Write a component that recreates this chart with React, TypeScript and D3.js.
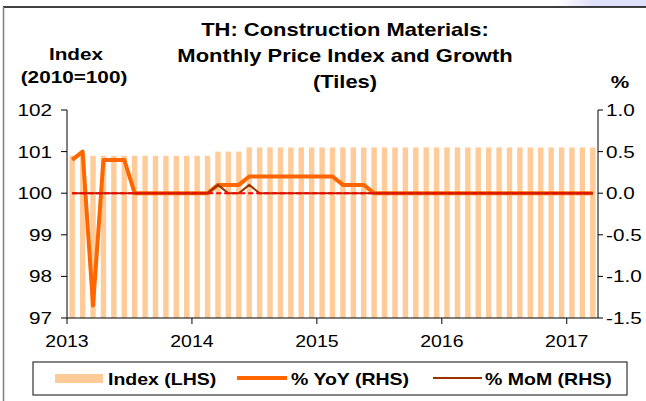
import React from "react";
import * as d3 from "d3";

const months = [
  "2013-01","2013-02","2013-03","2013-04","2013-05","2013-06","2013-07","2013-08","2013-09","2013-10","2013-11","2013-12",
  "2014-01","2014-02","2014-03","2014-04","2014-05","2014-06","2014-07","2014-08","2014-09","2014-10","2014-11","2014-12",
  "2015-01","2015-02","2015-03","2015-04","2015-05","2015-06","2015-07","2015-08","2015-09","2015-10","2015-11","2015-12",
  "2016-01","2016-02","2016-03","2016-04","2016-05","2016-06","2016-07","2016-08","2016-09","2016-10","2016-11","2016-12",
  "2017-01","2017-02","2017-03",
];

const indexValues = [
  100.9,100.9,100.9,100.9,100.9,100.9,100.9,100.9,100.9,100.9,100.9,100.9,
  100.9,100.9,101.0,101.0,101.0,101.1,101.1,101.1,101.1,101.1,101.1,101.1,
  101.1,101.1,101.1,101.1,101.1,101.1,101.1,101.1,101.1,101.1,101.1,101.1,
  101.1,101.1,101.1,101.1,101.1,101.1,101.1,101.1,101.1,101.1,101.1,101.1,
  101.1,101.1,101.1,
];

const yoyValues = [
  0.4,0.5,-1.35,0.4,0.4,0.4,0,0,0,0,0,0,
  0,0,0.1,0.1,0.1,0.2,0.2,0.2,0.2,0.2,0.2,0.2,
  0.2,0.2,0.1,0.1,0.1,0,0,0,0,0,0,0,
  0,0,0,0,0,0,0,0,0,0,0,0,
  0,0,0,
];

const momValues = [
  0,0,0,0,0,0,0,0,0,0,0,0,
  0,0,0.1,0,0,0.1,0,0,0,0,0,0,
  0,0,0,0,0,0,0,0,0,0,0,0,
  0,0,0,0,0,0,0,0,0,0,0,0,
  0,0,0,
];

const leftTicks = [97, 98, 99, 100, 101, 102];
const rightTicks = [-1.5, -1.0, -0.5, 0.0, 0.5, 1.0];
const yearLabels = ["2013", "2014", "2015", "2016", "2017"];
const titleLines = ["TH: Construction Materials:", "Monthly Price Index and Growth", "(Tiles)"];

const FONT = "'Liberation Sans', Arial, Helvetica, sans-serif";
const SX = 1.22;

function T({ x, y, anchor = "start", size = 16, weight = "normal", children }: any) {
  return (
    <text
      transform={`translate(${x},${y}) scale(${SX},1)`}
      textAnchor={anchor}
      fontSize={size}
      fontWeight={weight}
      fontFamily={FONT}
      fill="#000"
    >
      {children}
    </text>
  );
}

export default function App() {
  const W = 646, H = 401;
  const L = 67, R = 598, TOP = 110, BOT = 318;

  const x = d3.scaleBand<string>().domain(months).range([L, R]).paddingInner(0.48).paddingOuter(0.24);
  const yL = d3.scaleLinear().domain([97, 102]).range([BOT, TOP]);
  const yR = d3.scaleLinear().domain([-1.5, 1.0]).range([BOT, TOP]);
  const cx = (m: string) => (x(m) as number) + x.bandwidth() / 2;
  const step = x.step();
  const boundary = (m: string) => (x(m) as number) - (step - x.bandwidth()) / 2;

  const line = d3.line<number>().x((_, i) => cx(months[i])).y((d) => yR(d));
  const zeroLine = d3.line<number>().x((_, i) => cx(months[i])).y(() => yR(0));

  return (
    <svg width={W} height={H} style={{ position: "absolute", left: 0, top: 0, background: "#fff" }}>
      <defs>
        <linearGradient id="lav" x1="0" x2="1" y1="0" y2="0">
          <stop offset="0" stopColor="#E6E6FA" stopOpacity="0" />
          <stop offset="0.4" stopColor="#E0E0FA" stopOpacity="1" />
          <stop offset="1" stopColor="#E0E0FA" stopOpacity="1" />
        </linearGradient>
      </defs>
      <rect x={0} y={0} width={W} height={H} fill="#fff" />
      <rect x={555} y={0} width={91} height={7} fill="url(#lav)" />
      <line x1={3} x2={W} y1={7} y2={7} stroke="#000" strokeWidth={1.5} />
      <line x1={3.5} x2={3.5} y1={7} y2={H} stroke="#808080" strokeWidth={1.5} />

      {/* titles */}
      {titleLines.map((t, i) => (
        <T key={t} x={345} y={36 + i * 26} anchor="middle" size={18} weight="bold">{t}</T>
      ))}
      <T x={76} y={60} anchor="middle" size={17} weight="bold">Index</T>
      <T x={74} y={83} anchor="middle" size={17} weight="bold">(2010=100)</T>
      <T x={620} y={88} anchor="middle" size={17} weight="bold">%</T>

      {/* bars */}
      {months.map((m, i) => (
        <rect key={m} x={x(m)} y={yL(indexValues[i])} width={x.bandwidth()} height={BOT - yL(indexValues[i])} fill="#FFCC99" />
      ))}

      {/* lines */}
      <path d={line(yoyValues) || ""} fill="none" stroke="#FF6600" strokeWidth={4} strokeLinejoin="round" />
      <path d={line(momValues) || ""} fill="none" stroke="#993300" strokeWidth={2} />
      <path d={zeroLine(momValues) || ""} fill="none" stroke="#FF0000" strokeWidth={2} strokeDasharray="5,3" />

      {/* left axis */}
      <line x1={L} x2={L} y1={TOP} y2={BOT} stroke="#000" strokeWidth={1} />
      {leftTicks.map((t) => (
        <g key={t}>
          <line x1={L - 6} x2={L} y1={yL(t)} y2={yL(t)} stroke="#000" />
          <T x={52} y={yL(t) + 6} anchor="end" size={17}>{String(t)}</T>
        </g>
      ))}
      {/* right axis */}
      <line x1={R} x2={R} y1={TOP} y2={BOT} stroke="#000" strokeWidth={1} />
      {rightTicks.map((t) => (
        <g key={t}>
          <line x1={R} x2={R + 5} y1={yR(t)} y2={yR(t)} stroke="#000" />
          <T x={606} y={yR(t) + 6} anchor="start" size={17}>{d3.format(".1f")(t).replace("−", "-")}</T>
        </g>
      ))}
      {/* x axis */}
      <line x1={L} x2={R} y1={BOT} y2={BOT} stroke="#000" strokeWidth={1} />
      {yearLabels.map((yl) => {
        const bx = boundary(yl + "-01");
        return (
          <g key={yl}>
            <line x1={bx} x2={bx} y1={BOT} y2={BOT + 6} stroke="#000" />
            <T x={bx} y={347} anchor="middle" size={16}>{yl}</T>
          </g>
        );
      })}

      {/* legend */}
      <rect x={33} y={362} width={594} height={33} fill="#fff" stroke="#333" strokeWidth={1.2} />
      <rect x={55} y={374} width={48} height={9} fill="#FFCC99" />
      <T x={108} y={385} size={16} weight="bold">Index (LHS)</T>
      <line x1={237} x2={287} y1={378} y2={378} stroke="#FF6600" strokeWidth={4} />
      <T x={291} y={385} size={16} weight="bold">% YoY (RHS)</T>
      <line x1={433} x2={482} y1={378} y2={378} stroke="#993300" strokeWidth={2} />
      <T x={485} y={385} size={16} weight="bold">% MoM (RHS)</T>
    </svg>
  );
}
